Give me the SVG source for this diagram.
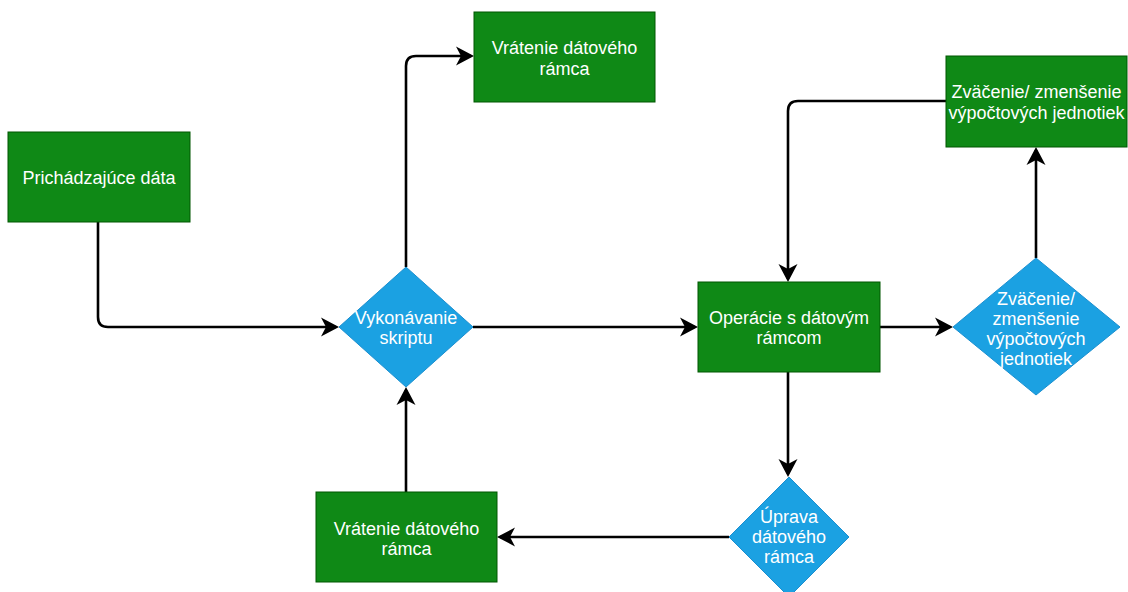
<svg xmlns="http://www.w3.org/2000/svg" width="1128" height="592" viewBox="0 0 1128 592">
  <style>
    .box { fill: #0f8916; stroke: #005700; stroke-width: 1; }
    .dia { fill: #1ba1e2; stroke: #1b8fd0; stroke-width: 1; }
    .lbl { font-family: "Liberation Sans", Arial, Helvetica, sans-serif; font-size: 18px; fill: #ffffff; text-anchor: middle; }
    .edge { fill: none; stroke: #000000; stroke-width: 2.6; }
  </style>
  <defs>
    <marker id="arrow" markerUnits="userSpaceOnUse" markerWidth="26" markerHeight="26" viewBox="-20 -13 26 26" refX="0" refY="0" orient="auto">
      <path d="M3,0 L-15,-9.5 L-10,0 L-15,9.5 Z" fill="#000000"/>
    </marker>
  </defs>
  <rect width="1128" height="592" fill="#ffffff"/>

  <!-- connectors -->
  <g id="connectors">
    <path class="edge" d="M98,222 L98,317 Q98,327 108,327 L336,327" marker-end="url(#arrow)"/>
    <path class="edge" d="M406,267 L406,66 Q406,56 416,56 L471,56" marker-end="url(#arrow)"/>
    <path class="edge" d="M473,327 L695,327" marker-end="url(#arrow)"/>
    <path class="edge" d="M880,327 L950,327" marker-end="url(#arrow)"/>
    <path class="edge" d="M1036,258 L1036,150" marker-end="url(#arrow)"/>
    <path class="edge" d="M946,101 L798,101 Q788,101 788,111 L788,279" marker-end="url(#arrow)"/>
    <path class="edge" d="M788,372 L788,474" marker-end="url(#arrow)"/>
    <path class="edge" d="M729,537 L500,537" marker-end="url(#arrow)"/>
    <path class="edge" d="M406,492 L406,390" marker-end="url(#arrow)"/>
  </g>

  <!-- incoming data -->
  <g id="incoming-data">
    <rect class="box" x="8" y="132" width="182" height="90"/>
    <text class="lbl" x="99" y="184">Prichádzajúce dáta</text>
  </g>

  <!-- return of data frame (top) -->
  <g id="return-frame-top">
    <rect class="box" x="474" y="12" width="181" height="90"/>
    <text class="lbl" x="564.5" y="54">Vrátenie dátového</text>
    <text class="lbl" x="564.5" y="75">rámca</text>
  </g>

  <!-- script execution -->
  <g id="script-execution">
    <polygon class="dia" points="406,267 473,327 406,387 339,327"/>
    <text class="lbl" x="406" y="324">Vykonávanie</text>
    <text class="lbl" x="406" y="344">skriptu</text>
  </g>

  <!-- data frame operations -->
  <g id="frame-operations">
    <rect class="box" x="698" y="282" width="182" height="90"/>
    <text class="lbl" x="789" y="324">Operácie s dátovým</text>
    <text class="lbl" x="789" y="344">rámcom</text>
  </g>

  <!-- scaling decision -->
  <g id="scaling-decision">
    <polygon class="dia" points="1036,258 1120,327 1036,395 953,327"/>
    <text class="lbl" x="1036" y="305">Zväčenie/</text>
    <text class="lbl" x="1036" y="325">zmenšenie</text>
    <text class="lbl" x="1036" y="345">výpočtových</text>
    <text class="lbl" x="1036" y="365">jednotiek</text>
  </g>

  <!-- scaling of compute units -->
  <g id="scaling-units">
    <rect class="box" x="946" y="56" width="181" height="91"/>
    <text class="lbl" x="1036.5" y="98">Zväčenie/ zmenšenie</text>
    <text class="lbl" x="1036.5" y="119">výpočtových jednotiek</text>
  </g>

  <!-- frame modification -->
  <g id="frame-modification">
    <polygon class="dia" points="789,477 849,537 789,597 729,537"/>
    <text class="lbl" x="789" y="523">Úprava</text>
    <text class="lbl" x="789" y="543">dátového</text>
    <text class="lbl" x="789" y="563">rámca</text>
  </g>

  <!-- return of data frame (bottom) -->
  <g id="return-frame-bottom">
    <rect class="box" x="316" y="492" width="181" height="90"/>
    <text class="lbl" x="406.5" y="535">Vrátenie dátového</text>
    <text class="lbl" x="406.5" y="555">rámca</text>
  </g>
</svg>
